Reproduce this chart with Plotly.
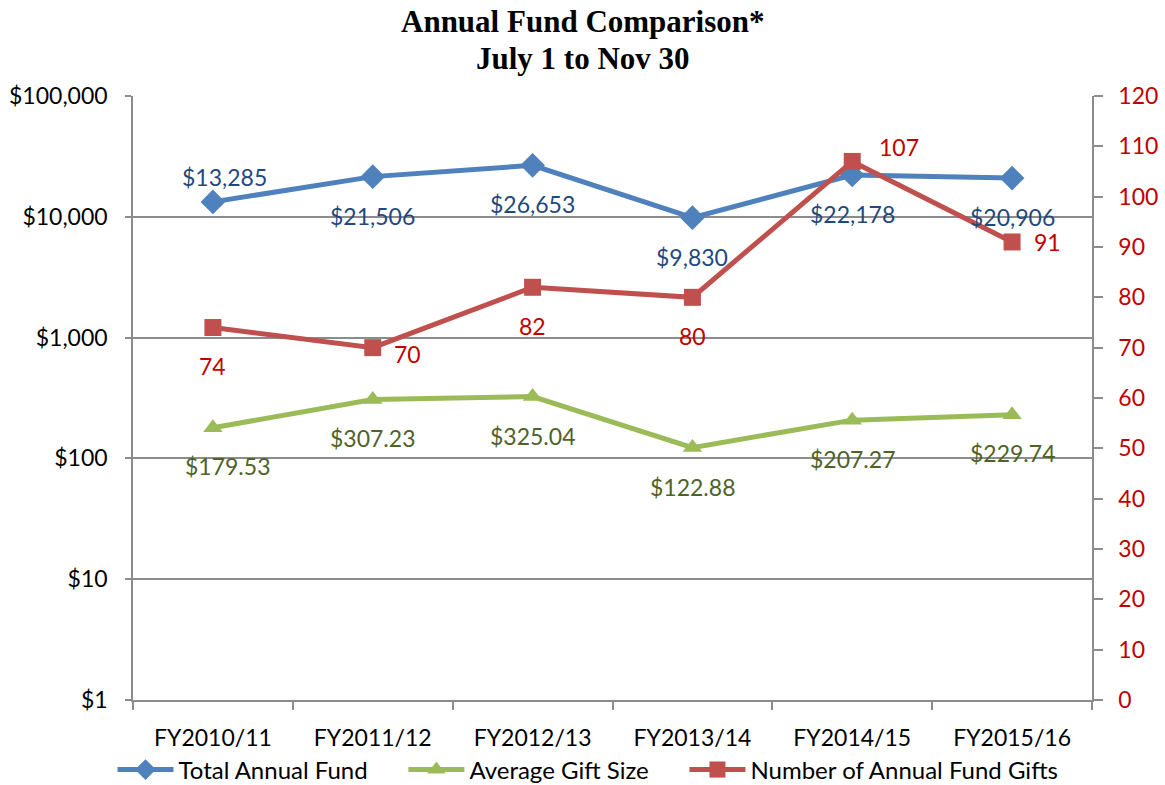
import math
import plotly.graph_objects as go

categories = ["FY2010/11", "FY2011/12", "FY2012/13", "FY2013/14", "FY2014/15", "FY2015/16"]
total_fund = [13285, 21506, 26653, 9830, 22178, 20906]
avg_gift = [179.53, 307.23, 325.04, 122.88, 207.27, 229.74]
num_gifts = [74, 70, 82, 80, 107, 91]
left_tickvals = [1, 10, 100, 1000, 10000, 100000]
left_ticktext = ["$1", "$10", "$100", "$1,000", "$10,000", "$100,000"]
title_lines = ["Annual Fund Comparison*", "July 1 to Nov 30"]
series_names = ["Total Annual Fund", "Average Gift Size", "Number of Annual Fund Gifts"]

FONT = "Lato"
BLUE, GREEN, RED = "#4F81BD", "#9BBB59", "#C0504D"
GRID = "#8C8C8C"
LBL = 23
W, H = 1165, 785
ML, MR, MT, MB = 133, 73, 96, 85
PW, PH = W - ML - MR, H - MT - MB
PAD = "\u00a0" * 5  # extra spacing between legend entries

# label pixel offsets (dx, dy) relative to each point, dy positive = up
total_off = [(12, 25), (0, -39), (0, -39), (0, -39), (0, -39), (0, -39)]
avg_off = [(15, -38), (0, -38), (0, -39), (0, -39), (0, -39), (0, -38)]
num_off = [(0, -38), (35, -6), (0, -39), (0, -39), (47, 14), (35, 0)]

fig = go.Figure()
fig.add_trace(go.Scatter(
    x=categories, y=total_fund, name=series_names[0] + PAD, mode="lines+markers",
    line=dict(color=BLUE, width=5), marker=dict(symbol="diamond", size=19, color=BLUE),
    cliponaxis=False,
))
fig.add_trace(go.Scatter(
    x=categories, y=avg_gift, name=series_names[1] + PAD, mode="lines+markers",
    line=dict(color=GREEN, width=5), marker=dict(symbol="triangle-up", size=17, color=GREEN),
    cliponaxis=False,
))
fig.add_trace(go.Scatter(
    x=categories, y=num_gifts, name=series_names[2], mode="lines+markers",
    line=dict(color=RED, width=5), marker=dict(symbol="square", size=17, color=RED),
    cliponaxis=False, yaxis="y2",
))

annotations = []
for c, v, (dx, dy) in zip(categories, total_fund, total_off):
    annotations.append(dict(x=c, y=math.log10(v), xref="x", yref="y", text="$" + f"{v:,}", showarrow=False,
                            xshift=dx, yshift=dy, font=dict(family=FONT, size=LBL, color="#1F497D")))
for c, v, (dx, dy) in zip(categories, avg_gift, avg_off):
    annotations.append(dict(x=c, y=math.log10(v), xref="x", yref="y", text="$" + f"{v:,.2f}", showarrow=False,
                            xshift=dx, yshift=dy, font=dict(family=FONT, size=LBL, color="#4F6228")))
for c, v, (dx, dy) in zip(categories, num_gifts, num_off):
    annotations.append(dict(x=c, y=v, xref="x", yref="y2", text=str(v), showarrow=False,
                            xshift=dx, yshift=dy, font=dict(family=FONT, size=LBL, color="#C00000")))
for i, t in enumerate(title_lines):
    py = 22 + 36 * i
    annotations.append(dict(x=(582.5 - ML) / PW, y=(H - MB - py) / PH, xref="paper", yref="paper",
                            text="<b>" + t + "</b>", showarrow=False, xanchor="center", yanchor="middle",
                            font=dict(family="Liberation Serif", size=31, color="black")))

fig.update_layout(
    width=W, height=H,
    margin=dict(l=ML, r=MR, t=MT, b=MB, autoexpand=False),
    paper_bgcolor="white", plot_bgcolor="white",
    font=dict(family=FONT, size=LBL, color="black"),
    annotations=annotations,
    xaxis=dict(
        type="category", range=[-0.5, 5.5], tickson="boundaries",
        ticks="outside", ticklen=8, tickcolor=GRID, tickwidth=1.5,
        showline=True, linecolor=GRID, linewidth=1.5, showgrid=False,
        tickfont=dict(family=FONT, size=LBL, color="black"), ticklabelstandoff=17,
    ),
    yaxis=dict(
        type="log", range=[0, 5], tickvals=left_tickvals, ticktext=left_ticktext,
        ticks="outside", ticklen=6, tickcolor=GRID, tickwidth=1.5,
        showline=True, linecolor=GRID, linewidth=1.5,
        showgrid=True, gridcolor=GRID, gridwidth=1.5, zeroline=False,
        tickfont=dict(family=FONT, size=LBL, color="black"), ticklabelstandoff=13,
    ),
    yaxis2=dict(
        overlaying="y", side="right", range=[0, 120], dtick=10, tick0=0,
        ticks="outside", ticklen=9, tickcolor=GRID, tickwidth=1.5,
        showline=True, linecolor=GRID, linewidth=1.5, showgrid=False, zeroline=False,
        tickfont=dict(family=FONT, size=LBL, color="#C00000"), ticklabelstandoff=11,
    ),
    legend=dict(
        orientation="h", x=(588 - ML) / PW, xanchor="center", y=(H - MB - 770) / PH, yanchor="middle",
        font=dict(family=FONT, size=24, color="black"), itemwidth=56,
        traceorder="normal", bgcolor="rgba(0,0,0,0)",
    ),
    showlegend=True,
)

fig.write_html("out.html")
